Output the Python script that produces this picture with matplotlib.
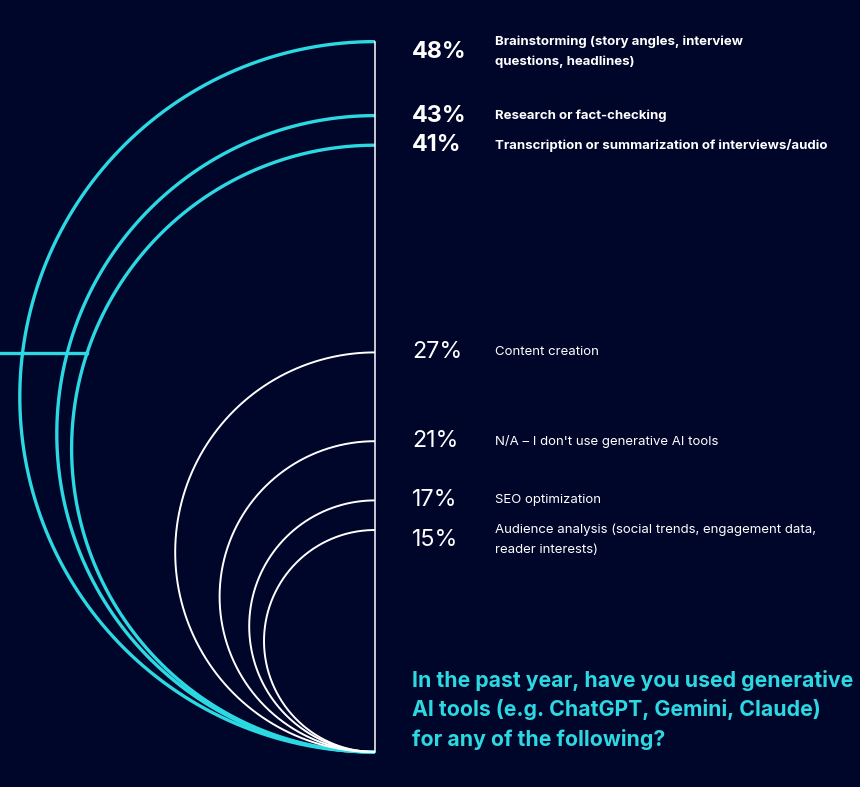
"""Nested half-circle chart: generative AI use cases among journalists."""

import matplotlib.pyplot as plt
import numpy as np

plt.rcParams["font.family"] = ["Inter", "DejaVu Sans"]

BG = "#00052A"
TEAL = "#2CD8E2"
WHITE = "#FFFFFF"

values = [48, 43, 41, 27, 21, 17, 15]
labels = [
    "Brainstorming (story angles, interview\nquestions, headlines)",
    "Research or fact-checking",
    "Transcription or summarization of interviews/audio",
    "Content creation",
    "N/A \u2013 I don't use generative AI tools",
    "SEO optimization",
    "Audience analysis (social trends, engagement data,\nreader interests)",
]
highlight = [True, True, True, False, False, False, False]
title = ("In the past year, have you used generative\n"
         "AI tools (e.g. ChatGPT, Gemini, Claude)\n"
         "for any of the following?")

# layout in pixel units (figure is 860 x 787 px)
BASE_X, BASE_Y = 375, 752
PX_PER_PCT = 14.8  # diameter in px per percentage point


def half_circle(ax, value, color, lw):
    r = value * PX_PER_PCT / 2
    cy = BASE_Y - r
    t = np.linspace(np.pi / 2, 3 * np.pi / 2, 400)
    ax.plot(BASE_X + r * np.cos(t), cy + r * np.sin(t), color=color, lw=lw,
            solid_capstyle="butt", zorder=2)
    return r, cy


def main():
    fig = plt.figure(figsize=(8.6, 7.87), dpi=100, facecolor=BG)
    ax = fig.add_axes([0, 0, 1, 1])
    ax.set_facecolor(BG)
    ax.set_xlim(0, 860)
    ax.set_ylim(787, 0)
    ax.axis("off")

    circles = []
    for v, lab, hi in zip(values, labels, highlight):
        color = TEAL if hi else WHITE
        r, cy = half_circle(ax, v, color, 2.4 if hi else 1.4)
        circles.append((r, cy))
        top = BASE_Y - 2 * r
        n_lines = lab.count("\n") + 1
        y = top + (n_lines - 1) * 10
        ax.text(412, y, f"{v}%", color=WHITE, fontsize=16.8,
                fontweight="bold" if hi else "normal", va="center", ha="left")
        ax.text(495, y, lab, color=WHITE, fontsize=9.5,
                fontweight="bold" if hi else "normal", va="center", ha="left",
                linespacing=1.85)

    # vertical axis line
    r0, _ = circles[0]
    ax.plot([BASE_X, BASE_X], [BASE_Y - 2 * r0, BASE_Y], color=WHITE, lw=1.1,
            zorder=3)

    # short teal bar crossing the highlighted arcs
    r3, cy3 = circles[2]
    yb = 353
    xb = BASE_X - np.sqrt(r3 ** 2 - (cy3 - yb) ** 2)
    ax.plot([0, xb], [yb, yb], color=TEAL, lw=2.4, zorder=2)

    ax.text(412, 710, title, color=TEAL, fontsize=15.3, fontweight="bold",
            va="center", ha="left", linespacing=1.5)

    fig.savefig("out.png", dpi=100, facecolor=BG)
    plt.close(fig)


if __name__ == "__main__":
    main()
